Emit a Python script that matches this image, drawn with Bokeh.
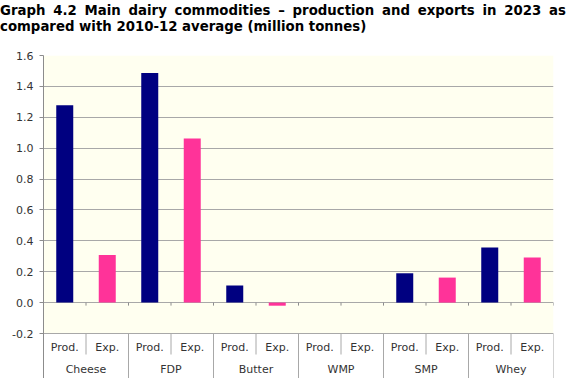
from bokeh.plotting import figure
from bokeh.layouts import column
from bokeh.models import Range1d, FixedTicker, PrintfTickFormatter, ColumnDataSource, Div
from bokeh.core.properties import value
from bokeh.embed import file_html
from bokeh.resources import INLINE

# ---------------- data ----------------
title_lines = [
    "Graph 4.2 Main dairy commodities \u2013 production and exports in 2023 as",
    "compared with 2010-12 average (million tonnes)",
]
groups = ["Cheese", "FDP", "Butter", "WMP", "SMP", "Whey"]
measures = ["Prod.", "Exp."]
production = [1.278, 1.486, 0.11, 0.0, 0.19, 0.357]
exports = [0.308, 1.062, -0.02, 0.0, 0.162, 0.292]
y_ticks = [-0.2, 0.0, 0.2, 0.4, 0.6, 0.8, 1.0, 1.2, 1.4, 1.6]

# ---------------- layout ----------------
W, H = 567, 378
TITLE_H = 40
LEFT, RIGHT, TOP = 43, 14, 55
Y_MIN, Y_MAX = -0.2, 1.6
AXIS_AREA = 45
plot_h = H - TOP - AXIS_AREA
ppu = plot_h / (Y_MAX - Y_MIN)
n = len(groups) * len(measures)


def below(px):
    return Y_MIN - px / ppu


FONT = "DejaVu Sans"
TXT = "#333333"
GRID = "#a8a8a8"

title = Div(
    text=(
        "<div style='display:block;width:%dpx;text-align:justify;text-align-last:justify'>%s</div>"
        "<div style='display:block;width:%dpx;text-align:left'>%s</div>"
        % (W - 1, title_lines[0], W - 1, title_lines[1])
    ),
    width=W, height=TITLE_H,
    styles={
        "font-family": FONT, "font-weight": "bold", "font-size": "13.3px",
        "line-height": "16px", "color": "black", "padding-top": "2.5px",
        "margin": "0", "box-sizing": "border-box",
    },
)

p = figure(
    width=W, height=H - TITLE_H,
    x_range=Range1d(0, n), y_range=Range1d(below(AXIS_AREA), Y_MAX),
    output_backend="svg", toolbar_location=None,
    min_border_left=LEFT, min_border_right=RIGHT,
    min_border_top=TOP - TITLE_H, min_border_bottom=0,
)
p.outline_line_color = None
p.background_fill_color = "white"
p.border_fill_color = "white"

# plot-area background
p.quad(left=[0], right=[n], bottom=[Y_MIN], top=[Y_MAX],
       fill_color="#fffff0", line_color=None, level="image")

# axes / grid
p.xaxis.visible = False
p.xgrid.visible = False
p.yaxis.ticker = FixedTicker(ticks=y_ticks)
p.ygrid.ticker = FixedTicker(ticks=y_ticks)
p.ygrid.grid_line_color = GRID
p.yaxis.formatter = PrintfTickFormatter(format="%.1f")
p.yaxis.axis_line_color = "#8c8c8c"
p.yaxis.major_tick_line_color = "#8c8c8c"
p.yaxis.major_tick_out = 4
p.yaxis.major_tick_in = 0
p.yaxis.minor_tick_line_color = None
p.yaxis.major_label_standoff = 6
p.yaxis.major_label_text_font = FONT
p.yaxis.major_label_text_font_size = "11px"
p.yaxis.major_label_text_color = TXT

# bars
prod_x = [i * 2 + 0.5 for i in range(len(groups))]
exp_x = [i * 2 + 1.5 for i in range(len(groups))]
p.vbar(x=prod_x, top=production, bottom=0, width=0.4, fill_color="#000080", line_color=None)
p.vbar(x=exp_x, top=exports, bottom=0, width=0.4, fill_color="#ff3399", line_color=None)

# category axis ticks at zero
bounds = list(range(n + 1))
p.segment(x0=bounds, y0=[0] * len(bounds), x1=bounds, y1=[-3 / ppu] * len(bounds),
          line_color="#8c8c8c", line_width=1)

# separators below plot area
inner = [b for b in bounds if b % 2 == 1]
outer = [b for b in bounds if b % 2 == 0]
p.segment(x0=inner, y0=[Y_MIN] * len(inner), x1=inner, y1=[below(21)] * len(inner),
          line_color=GRID, line_width=1)
p.segment(x0=outer, y0=[Y_MIN] * len(outer), x1=outer, y1=[below(AXIS_AREA)] * len(outer),
          line_color=GRID, line_width=1)

# category labels
sub_src = ColumnDataSource(dict(
    x=[i * 2 + j + 0.5 for i in range(len(groups)) for j in range(len(measures))],
    t=[m for _ in groups for m in measures],
))
p.text(x="x", y=below(14), text="t", source=sub_src, text_align="center", text_baseline="middle",
       text_font=value(FONT), text_font_size="11px", text_color=TXT)
grp_src = ColumnDataSource(dict(x=[i * 2 + 1 for i in range(len(groups))], t=groups))
p.text(x="x", y=below(36), text="t", source=grp_src, text_align="center", text_baseline="middle",
       text_font=value(FONT), text_font_size="11px", text_color=TXT)

layout = column(title, p, spacing=0)
open("out.html", "w").write(file_html(layout, INLINE))
